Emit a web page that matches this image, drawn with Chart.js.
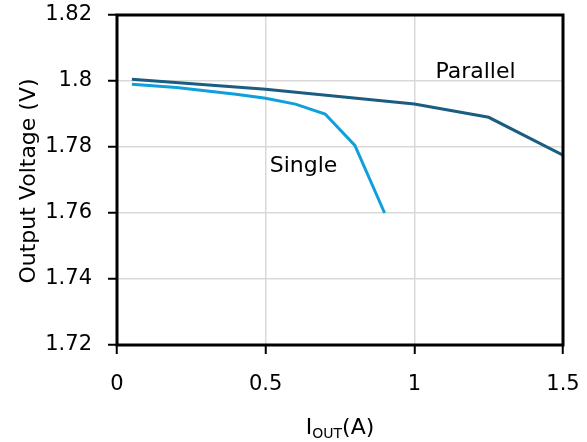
<!DOCTYPE html>
<html><head><meta charset="utf-8">
<script src="https://cdn.jsdelivr.net/npm/chart.js@4/dist/chart.umd.min.js"></script>
<style>html,body{margin:0;padding:0;background:#fff}#wrap{width:587px;height:442px}</style>
</head><body><div id="wrap"><canvas id="c" width="587" height="442"></canvas></div>
<script>
const singleX = [0.05, 0.2, 0.4, 0.5, 0.6, 0.7, 0.8, 0.9];
const singleY = [1.799, 1.798, 1.796, 1.7948, 1.793, 1.790, 1.7805, 1.760];
const parallelX = [0.05, 0.5, 1.0, 1.25, 1.5];
const parallelY = [1.8005, 1.7975, 1.793, 1.789, 1.7775];
const xTicks = [0, 0.5, 1, 1.5];
const yTicks = [1.72, 1.74, 1.76, 1.78, 1.8, 1.82];
const labels = [{text:'Parallel', x:1.2058, y:1.8008}, {text:'Single', x:0.6273, y:1.7725}];
const FONT = '"DejaVu Sans", sans-serif';

const boxPlugin = {
  id:'box',
  afterDatasetsDraw(chart){
    const {ctx, chartArea:a, scales} = chart;
    ctx.save();
    ctx.strokeStyle='#000'; ctx.lineWidth=3;
    ctx.strokeRect(a.left, a.top, a.right-a.left, a.bottom-a.top);
    ctx.fillStyle='#000';
    ctx.font='22px '+FONT;
    ctx.textAlign='center'; ctx.textBaseline='alphabetic';
    labels.forEach(l=>{
      ctx.fillText(l.text, scales.x.getPixelForValue(l.x), scales.y.getPixelForValue(l.y));
    });
    // y title
    ctx.save();
    ctx.translate(35, 181);
    ctx.rotate(-Math.PI/2);
    ctx.fillText('Output Voltage (V)', 0, 0);
    ctx.restore();
    // x title with subscript
    const cx=(a.left+a.right)/2, by=434;
    ctx.textAlign='left';
    ctx.font='22px '+FONT; const wI=ctx.measureText('I').width;
    const wP=ctx.measureText('(A)').width;
    ctx.font='14px '+FONT; const wS=ctx.measureText('OUT').width;
    let x0=cx-(wI+wS+wP)/2;
    ctx.font='22px '+FONT; ctx.fillText('I', x0, by);
    ctx.font='14px '+FONT; ctx.fillText('OUT', x0+wI, by+4);
    ctx.font='22px '+FONT; ctx.fillText('(A)', x0+wI+wS, by);
    ctx.restore();
  }
};

new Chart(document.getElementById('c'), {
  type:'scatter',
  data:{datasets:[
    {label:'Parallel', data:parallelX.map((x,i)=>({x, y:parallelY[i]})), showLine:true, borderColor:'#1a5d80', borderWidth:3, pointRadius:0, tension:0},
    {label:'Single', data:singleX.map((x,i)=>({x, y:singleY[i]})), showLine:true, borderColor:'#0fa0dc', borderWidth:3, pointRadius:0, tension:0}
  ]},
  plugins:[boxPlugin],
  options:{
    responsive:false, animation:false,
    layout:{padding:{left:0, right:24, top:15, bottom:0}},
    plugins:{legend:{display:false}, tooltip:{enabled:false}},
    scales:{
      x:{type:'linear', min:0, max:1.5,
        afterBuildTicks(s){ s.ticks = xTicks.map(v=>({value:v})); },
        afterFit(s){ s.height = 97; s.paddingLeft = 0; s.paddingRight = 0; },
        grid:{color:'#d9d9d9', lineWidth:1.5, tickLength:9, tickColor:'#000', tickWidth:2, drawTicks:true},
        border:{display:false},
        ticks:{color:'#000', font:{family:FONT, size:21}, padding:18, maxRotation:0, callback:v=>String(v)}
      },
      y:{type:'linear', min:1.72, max:1.82,
        afterBuildTicks(s){ s.ticks = yTicks.map(v=>({value:v})); },
        afterFit(s){ s.width = 117; s.paddingTop = 0; s.paddingBottom = 0; },
        grid:{color:'#d9d9d9', lineWidth:1.5, tickLength:9, tickColor:'#000', tickWidth:2},
        border:{display:false},
        ticks:{color:'#000', font:{family:FONT, size:21}, padding:16, callback:v=>String(+v.toFixed(2))}
      }
    }
  }
});
</script></body></html>
